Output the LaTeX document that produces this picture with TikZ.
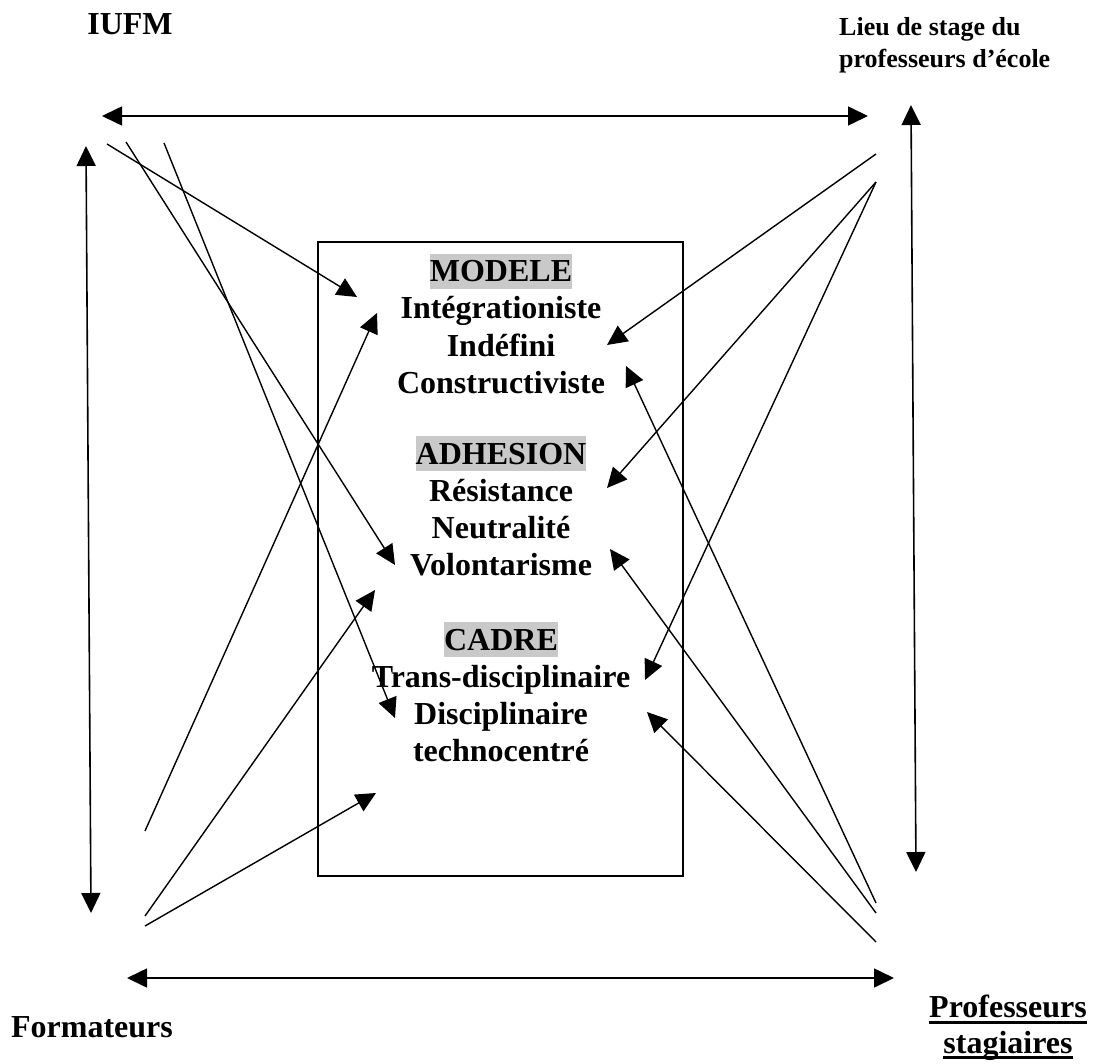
\documentclass[tikz,border=0pt]{standalone}
\usepackage{fontspec}
\setmainfont{Liberation Serif}
\usetikzlibrary{arrows.meta,positioning}
\definecolor{hlgrey}{gray}{0.79}
\newcommand{\thickul}[1]{\setbox0=\hbox{#1}\rlap{\rule[-6pt]{\wd0}{3pt}}\box0}
\tikzset{big label/.style={font=\fontsize{32}{37}\selectfont\bfseries,inner sep=0pt},
         small label/.style={font=\fontsize{26}{32}\selectfont\bfseries,inner sep=0pt,align=left},
         head label/.style={big label,fill=hlgrey,text height=28pt,text depth=7pt},
         frame/.style={draw,line width=1.2pt,minimum width=365pt,minimum height=634pt,inner sep=0pt},
         link/.style={->,line width=1.4pt},
         twoway/.style={<->,line width=1.6pt}
}

\begin{document}
\begin{tikzpicture}[x=1pt,y=-1pt,
>={Triangle[length=20pt,width=19pt]}]
\useasboundingbox (0,0) rectangle (1094,1064);
\node[big label,anchor=base] (iufm) at (130,35) {IUFM};
\node[small label,anchor=north west] (lieu) at (839,17.5) {Lieu de stage du\\professeurs d’école};
\node[big label,anchor=base] (formateurs) at (92,1037) {Formateurs};
\node[big label,align=center,anchor=north,font=\fontsize{32}{35.5}\selectfont\bfseries] (stagiaires) at (1008,995)
    {\thickul{Professeurs}\\\thickul{stagiaires}};

\node[frame] (box) at (500.5,559) {};
\node[head label,anchor=base] (modele) at (501,282) {MODELE};
\foreach \txt [count=\i] in {Intégrationiste,Indéfini,Constructiviste}
    \node[big label,anchor=base] (modele-\i) at (501,282+37*\i) {\txt};
\node[head label,anchor=base] (adhesion) at (501,464) {ADHESION};
\foreach \txt [count=\i] in {Résistance,Neutralité,Volontarisme}
    \node[big label,anchor=base] (adhesion-\i) at (501,464+37*\i) {\txt};
\node[head label,anchor=base] (cadre) at (501,650) {CADRE};
\foreach \txt [count=\i] in {Trans-disciplinaire,Disciplinaire,technocentré}
    \node[big label,anchor=base] (cadre-\i) at (501,650+37*\i) {\txt};

\coordinate (top-l) at (102,116);
\coordinate (top-r) at (868,116);
\coordinate (bot-l) at (127,978);
\coordinate (bot-r) at (894,978);
\coordinate (left-t) at (86,146);
\coordinate (left-b) at (91,913);
\coordinate (right-t) at (911,105);
\coordinate (right-b) at (916,872);
\draw[twoway] (top-l) -- (top-r);
\draw[twoway] (bot-l) -- (bot-r);
\draw[twoway] (left-t) -- (left-b);
\draw[twoway] (right-t) -- (right-b);

\coordinate (iufm-1) at (107,144);
\coordinate (iufm-2) at (126,142);
\coordinate (iufm-3) at (164,143);
\coordinate (lieu-1) at (876,154);
\coordinate (lieu-2) at (876,182);
\coordinate (form-1) at (145,831);
\coordinate (form-2) at (145,916);
\coordinate (form-3) at (145,926);
\coordinate (prof-1) at (876,903);
\coordinate (prof-2) at (876,913);
\coordinate (prof-3) at (876,942);

\coordinate (to-a) at (357,297);
\coordinate (to-b) at (395,565);
\coordinate (to-c) at (395,718);
\coordinate (to-d) at (377,313);
\coordinate (to-e) at (375,590);
\coordinate (to-f) at (376,793);
\coordinate (to-g) at (607,345);
\coordinate (to-h) at (607,488);
\coordinate (to-i) at (645,680);
\coordinate (to-j) at (626,366);
\coordinate (to-k) at (610,549);
\coordinate (to-l) at (647,712);

\foreach \s/\t in {iufm-1/to-a,iufm-2/to-b,iufm-3/to-c,
                   form-1/to-d,form-2/to-e,form-3/to-f,
                   lieu-1/to-g,lieu-2/to-h,lieu-2/to-i,
                   prof-1/to-j,prof-2/to-k,prof-3/to-l}
    \draw[link] (\s) -- (\t);
\end{tikzpicture}
\end{document}
